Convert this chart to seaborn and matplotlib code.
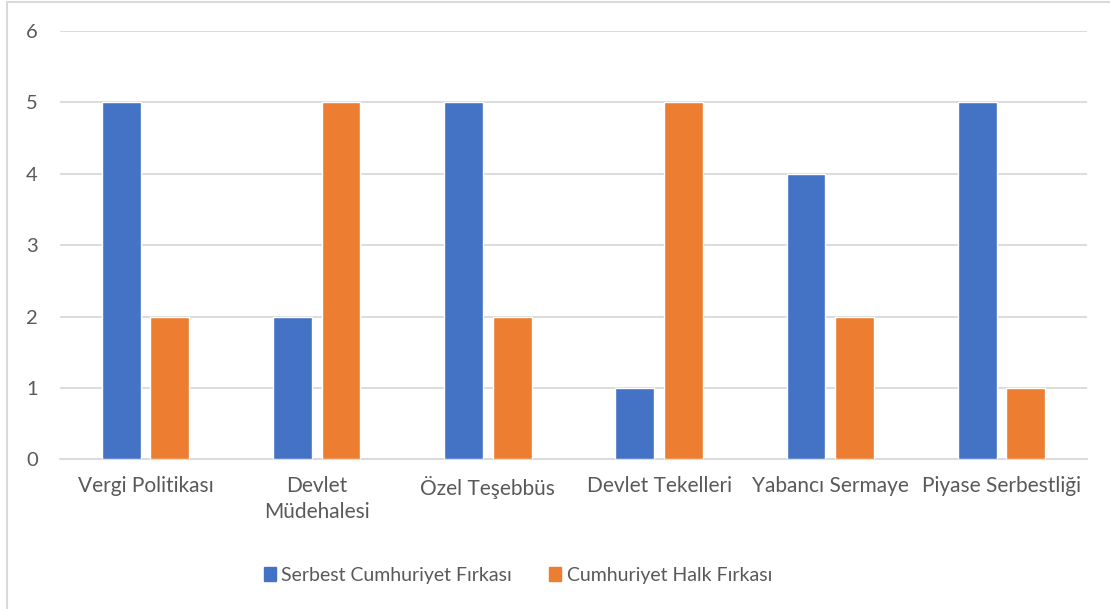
import pandas as pd
import matplotlib
matplotlib.use('Agg')
import matplotlib.pyplot as plt
import seaborn as sns
from matplotlib.lines import Line2D

# chart values
categories = ['Vergi Politikası', 'Devlet\nMüdehalesi', 'Özel Teşebbüs',
              'Devlet Tekelleri', 'Yabancı Sermaye', 'Piyase Serbestliği']
series_names = ['Serbest Cumhuriyet Fırkası', 'Cumhuriyet Halk Fırkası']
serbest = [5, 2, 5, 1, 4, 5]
halk = [2, 5, 2, 5, 2, 1]
y_ticks = [0, 1, 2, 3, 4, 5, 6]

df = pd.DataFrame({
    'kategori': categories * 2,
    'parti': [series_names[0]] * len(categories) + [series_names[1]] * len(categories),
    'puan': serbest + halk,
})

sns.set_theme(style='white')
plt.rcParams['font.family'] = ['Lato', 'DejaVu Sans']
text_color = '#595959'
grid_color = '#D9D9D9'
palette = {series_names[0]: '#4472C4', series_names[1]: '#ED7D31'}

fig = plt.figure(figsize=(11.1, 6.09), dpi=100)
ax = fig.add_axes([60 / 1110, 1 - 459.3 / 609, 1027 / 1110, 428.4 / 609])

sns.barplot(data=df, x='kategori', y='puan', hue='parti', order=categories,
            hue_order=series_names, palette=palette, width=0.567, gap=0.2,
            saturation=1, errorbar=None, ax=ax, zorder=3)

ax.set_ylim(0, 6)
ax.set_yticks(y_ticks)
ax.set_xlim(-0.5, len(categories) - 0.5)
ax.yaxis.grid(True, color=grid_color, linewidth=1.3, zorder=0)
ax.xaxis.grid(False)
for side in ['top', 'right', 'left']:
    ax.spines[side].set_visible(False)
ax.spines['bottom'].set_color(grid_color)
ax.spines['bottom'].set_linewidth(1.3)
ax.tick_params(axis='y', length=0, pad=16, labelsize=14.5, labelcolor=text_color)
ax.tick_params(axis='x', length=0, pad=12, labelsize=15, labelcolor=text_color)
for lbl in ax.get_xticklabels():
    lbl.set_linespacing(1.35)
ax.set_xlabel('')
ax.set_ylabel('')

ax.get_legend().remove()
handles = [plt.Rectangle((0, 0), 1, 1, color=palette[n]) for n in series_names]
leg = fig.legend(handles, series_names, loc='center', ncol=2, frameon=False,
                 bbox_to_anchor=(518 / 1110, 1 - 575 / 609),
                 handlelength=0.6, handleheight=0.7, handletextpad=0.3,
                 columnspacing=1.9, fontsize=14)
for t in leg.get_texts():
    t.set_color(text_color)

# light chart-area border (top and left edges are visible in the reference)
fig.add_artist(Line2D([7 / 1110, 7 / 1110], [0, 1 - 2 / 609], transform=fig.transFigure,
                      color=grid_color, linewidth=1.5))
fig.add_artist(Line2D([7 / 1110, 1], [1 - 2 / 609, 1 - 2 / 609], transform=fig.transFigure,
                      color=grid_color, linewidth=1.5))

fig.savefig('out.png', dpi=100)
